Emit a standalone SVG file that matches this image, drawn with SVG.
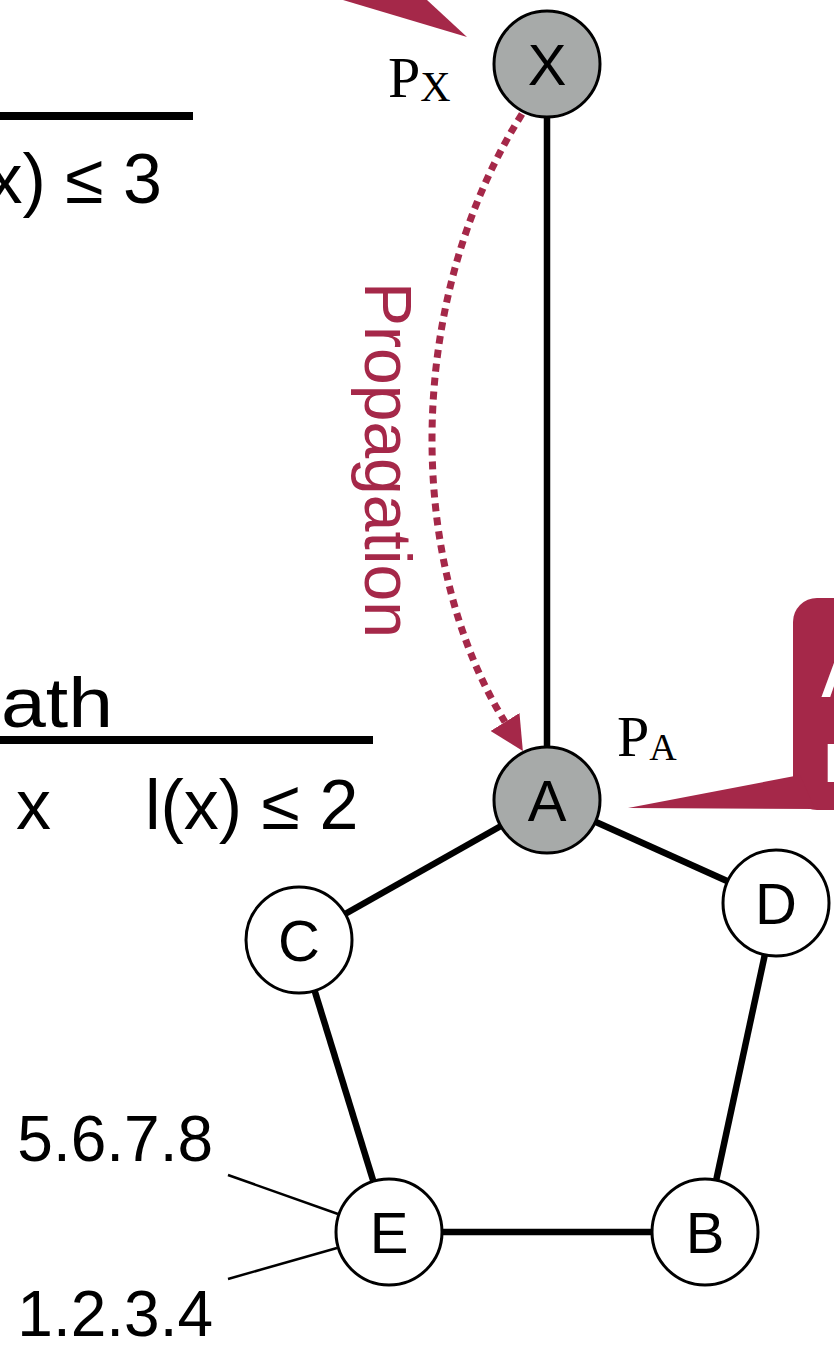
<svg xmlns="http://www.w3.org/2000/svg" width="834" height="1352" viewBox="0 0 834 1352">
<style>
.edge{stroke:#000;stroke-width:6.5;fill:none}
.lead{stroke:#000;stroke-width:2.5;fill:none}
.node{stroke:#000;stroke-width:3;fill:#fff}
.hot{fill:#a7aaa9}
.nl{font-family:"Liberation Sans",Arial,sans-serif;font-size:58px;text-anchor:middle;fill:#000}
.math{font-family:"Liberation Sans",Arial,sans-serif;font-size:70px;fill:#000}
.pl{font-family:"Liberation Serif","Times New Roman",serif;font-size:58px;fill:#000}
.num{font-family:"Liberation Sans",Arial,sans-serif;font-size:64px;fill:#000}
.red{fill:#a52849}
.rule{stroke:#000;stroke-width:8}
</style>
<defs>
<marker id="ah" markerUnits="userSpaceOnUse" markerWidth="34" markerHeight="34" viewBox="0 0 34 34" refX="0" refY="17" orient="auto">
<path d="M0,0 L34,17 L0,34 z" fill="#a52849"/>
</marker>
</defs>
<g id="callouts">
<polygon class="red" points="343,0 427,0 467,37"/>
<rect class="red" x="793" y="598" width="100" height="212" rx="24"/>
<polygon class="red" points="628,808 800,775 815,809"/>
<text x="820" y="697" font-family="Liberation Sans,Arial,sans-serif" font-weight="bold" font-size="60" fill="#fff">A</text>
<text x="824" y="782" font-family="Liberation Sans,Arial,sans-serif" font-weight="bold" font-size="56" fill="#fff">I</text>
</g>
<g id="math">
<line class="rule" x1="0" y1="116" x2="193" y2="116"/>
<text class="math" x="162" y="203" text-anchor="end">x) ≤ 3</text>
<text class="math" x="1" y="727" font-size="80" textLength="112" lengthAdjust="spacingAndGlyphs">ath</text>
<line class="rule" x1="0" y1="740" x2="128" y2="740"/>
<line class="rule" x1="128" y1="740" x2="373" y2="740"/>
<text class="math" x="16" y="829">x</text>
<text class="math" x="145" y="829">l(x) ≤ 2</text>
</g>
<g id="connectors">
<line class="edge" x1="547" y1="64" x2="547" y2="800"/>
<line class="edge" x1="547" y1="800" x2="299" y2="940"/>
<line class="edge" x1="547" y1="800" x2="776" y2="903"/>
<line class="edge" x1="299" y1="940" x2="389" y2="1232"/>
<line class="edge" x1="776" y1="903" x2="705" y2="1232"/>
<line class="edge" x1="389" y1="1232" x2="705" y2="1232"/>
<line class="lead" x1="228" y1="1175" x2="338" y2="1214"/>
<line class="lead" x1="228" y1="1279" x2="337" y2="1248"/>
<path d="M522,114 C405,300 405,560 505,722" fill="none" stroke="#a52849" stroke-width="7" stroke-dasharray="8,6" marker-end="url(#ah)"/>
<text transform="translate(365,282) rotate(90)" font-family="Liberation Sans,Arial,sans-serif" font-size="66" fill="#a52849">Propagation</text>
</g>
<g id="node-X"><circle class="node hot" cx="547" cy="64" r="53"/><text class="nl" x="547" y="85">X</text>
<text class="pl" x="388" y="97">P<tspan font-size="42" dy="4">X</tspan></text></g>
<g id="node-A"><circle class="node hot" cx="547" cy="800" r="53"/><text class="nl" x="547" y="821">A</text>
<text class="pl" x="617" y="756">P<tspan font-size="38" dy="4">A</tspan></text></g>
<g id="node-C"><circle class="node" cx="299" cy="940" r="53"/><text class="nl" x="299" y="961">C</text></g>
<g id="node-D"><circle class="node" cx="776" cy="903" r="53"/><text class="nl" x="776" y="924">D</text></g>
<g id="node-E"><circle class="node" cx="389" cy="1232" r="53"/><text class="nl" x="389" y="1253">E</text></g>
<g id="node-B"><circle class="node" cx="705" cy="1232" r="53"/><text class="nl" x="705" y="1253">B</text></g>
<g id="labels">
<text class="num" x="213" y="1161" text-anchor="end">5.6.7.8</text>
<text class="num" x="213" y="1336" text-anchor="end">1.2.3.4</text>
</g>
</svg>
